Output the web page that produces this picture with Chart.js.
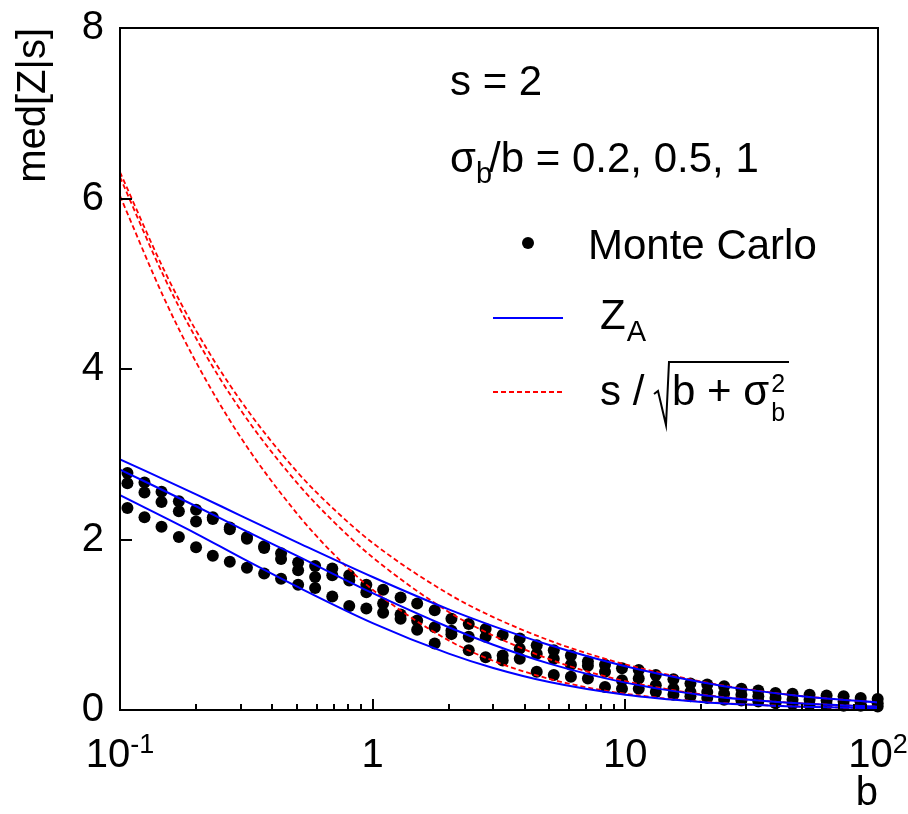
<!DOCTYPE html>
<html>
<head>
<meta charset="utf-8">
<script src="https://cdn.jsdelivr.net/npm/chart.js@4/dist/chart.umd.min.js"></script>
<style>
  html, body { margin: 0; padding: 0; background: #fff; }
  canvas { display: block; }
</style>
</head>
<body>
<canvas id="chart" width="908" height="814"></canvas>
<script>
// Expected background b for each Monte Carlo point
const mcB = [0.107, 0.125, 0.146, 0.171, 0.200, 0.233, 0.272, 0.318, 0.372, 0.434,
             0.507, 0.592, 0.692, 0.808, 0.944, 1.10, 1.29, 1.50, 1.76, 2.05,
             2.40, 2.80, 3.27, 3.82, 4.46, 5.21, 6.09, 7.11, 8.31, 9.70,
             11.3, 13.2, 15.5, 18.1, 21.1, 24.6, 28.8, 33.6, 39.3, 45.9,
             53.6, 62.6, 73.1, 85.4, 99.7];
// Monte Carlo median significance, one list per sigma_b/b
const mcSigma02 = [2.78, 2.67, 2.56, 2.45, 2.35, 2.26, 2.14, 2.03, 1.92, 1.84,
                   1.73, 1.69, 1.66, 1.58, 1.47, 1.41, 1.32, 1.25, 1.17, 1.07,
                   1.01, 0.95, 0.88, 0.84, 0.76, 0.70, 0.64, 0.57, 0.53, 0.49,
                   0.47, 0.41, 0.36, 0.31, 0.30, 0.28, 0.25, 0.23, 0.20, 0.19,
                   0.18, 0.17, 0.16, 0.14, 0.13];
const mcSigma05 = [2.66, 2.55, 2.44, 2.33, 2.21, 2.24, 2.12, 2.01, 1.90, 1.77,
                   1.64, 1.56, 1.58, 1.52, 1.38, 1.25, 1.12, 1.05, 0.97, 0.93,
                   0.86, 0.86, 0.64, 0.72, 0.66, 0.60, 0.53, 0.52, 0.45, 0.35,
                   0.37, 0.29, 0.25, 0.21, 0.21, 0.19, 0.18, 0.16, 0.14, 0.12,
                   0.12, 0.11, 0.10, 0.09, 0.08];
const mcSigma1  = [2.37, 2.26, 2.15, 2.03, 1.91, 1.81, 1.74, 1.67, 1.60, 1.54,
                   1.47, 1.43, 1.33, 1.22, 1.19, 1.14, 1.07, 0.94, 0.78, 0.89,
                   0.70, 0.62, 0.58, 0.60, 0.45, 0.41, 0.39, 0.37, 0.27, 0.25,
                   0.25, 0.21, 0.18, 0.16, 0.14, 0.12, 0.11, 0.10, 0.08, 0.07,
                   0.06, 0.06, 0.05, 0.05, 0.04];

// Asimov significance Z_A curves
const zaB      = [0.1, 0.2, 0.3, 0.5, 1, 2, 3, 5, 10, 20, 30, 50, 100];
const zaSigma02 = [2.94, 2.53, 2.28, 1.97, 1.56, 1.18, 0.984, 0.762, 0.513, 0.326, 0.242, 0.162, 0.089];
const zaSigma05 = [2.82, 2.39, 2.13, 1.81, 1.37, 0.971, 0.765, 0.544, 0.321, 0.177, 0.123, 0.076, 0.039];
const zaSigma1  = [2.52, 2.07, 1.79, 1.45, 1.02, 0.661, 0.493, 0.328, 0.180, 0.095, 0.064, 0.039, 0.020];

// Simple approximation s / sqrt(b + sigma_b^2)
const simpleB       = [0.1, 0.15, 0.2, 0.3, 0.5, 0.7, 1, 2, 3, 5, 7, 10, 20, 30, 50, 100];
const simpleSigma02 = [6.31, 5.15, 4.45, 3.63, 2.80, 2.36, 1.96, 1.36, 1.09, 0.816, 0.668, 0.535, 0.333, 0.246, 0.163, 0.089];
const simpleSigma05 = [6.25, 5.07, 4.36, 3.52, 2.67, 2.21, 1.79, 1.15, 0.873, 0.596, 0.456, 0.338, 0.183, 0.125, 0.077, 0.039];
const simpleSigma1  = [6.03, 4.82, 4.08, 3.20, 2.31, 1.83, 1.41, 0.816, 0.577, 0.365, 0.267, 0.191, 0.098, 0.066, 0.040, 0.020];

// Axis ticks and their labels (mantissa + exponent)
const xTickValues = [0.1, 1, 10, 100];
const xTickBase   = ['10', '1', '10', '10'];
const xTickExp    = ['-1', '', '', '2'];
const yTickStep = 2;

const FAMILY = '"Liberation Sans", Arial, Helvetica, sans-serif';
const font = px => px + 'px ' + FAMILY;

const pts = (xs, ys) => xs.map((x, i) => ({ x: x, y: ys[i] }));

function curve(xs, ys, color, dash) {
  return {
    data: pts(xs, ys),
    showLine: true,
    pointRadius: 0,
    borderColor: color,
    borderWidth: dash ? 1.8 : 2,
    borderDash: dash || [],
    cubicInterpolationMode: 'monotone',
    fill: false
  };
}
function mc(ys) {
  return {
    data: pts(mcB, ys),
    showLine: false,
    pointRadius: 6,
    pointBackgroundColor: '#000',
    pointBorderWidth: 0,
    clip: false
  };
}

// Frame, inside ticks, power-of-ten labels, text block and legend
const decor = {
  id: 'decor',
  afterDraw(chart) {
    const { ctx, chartArea: a, scales: { x, y } } = chart;
    ctx.save();
    ctx.strokeStyle = '#000';
    ctx.fillStyle = '#000';

    // frame
    ctx.lineWidth = 2;
    ctx.strokeRect(a.left, a.top, a.right - a.left, a.bottom - a.top);

    // x ticks (major + minor, pointing inwards)
    ctx.lineWidth = 2;
    ctx.beginPath();
    for (let e = -1; e <= 2; e++) {
      for (let m = 1; m <= 9; m++) {
        const v = m * Math.pow(10, e);
        if (v > 100.0001) break;
        const px = Math.round(x.getPixelForValue(v));
        const len = m === 1 ? 11 : 6;
        ctx.moveTo(px, a.bottom);
        ctx.lineTo(px, a.bottom - len);
      }
    }
    // y ticks
    for (let v = 0; v <= 8; v += yTickStep) {
      const py = Math.round(y.getPixelForValue(v));
      ctx.moveTo(a.left, py);
      ctx.lineTo(a.left + 12, py);
    }
    ctx.stroke();

    // x tick labels with exponents
    ctx.textBaseline = 'alphabetic';
    ctx.textAlign = 'left';
    xTickValues.forEach((v, i) => {
      const px = x.getPixelForValue(v);
      ctx.font = font(40);
      const wb = ctx.measureText(xTickBase[i]).width;
      ctx.font = font(27);
      const we = xTickExp[i] ? ctx.measureText(xTickExp[i]).width : 0;
      const x0 = px - (wb + we) / 2;
      ctx.font = font(40);
      ctx.fillText(xTickBase[i], x0, 767);
      if (xTickExp[i]) {
        ctx.font = font(27);
        ctx.fillText(xTickExp[i], x0 + wb, 753);
      }
    });

    // parameter text
    ctx.font = font(42);
    ctx.fillText('s = 2', 450, 95);
    ctx.fillText('\u03c3', 450, 172);
    let cx = 450 + ctx.measureText('\u03c3').width;
    ctx.font = font(29);
    ctx.fillText('b', cx, 183);
    cx += ctx.measureText('b').width - 3;
    ctx.font = font(42);
    ctx.fillText('/b = 0.2, 0.5, 1', cx, 172);

    // legend: Monte Carlo
    ctx.beginPath();
    ctx.arc(528, 243, 6, 0, Math.PI * 2);
    ctx.fill();
    ctx.fillText('Monte Carlo', 588, 259);

    // legend: Z_A
    ctx.strokeStyle = '#0000ff';
    ctx.lineWidth = 2;
    ctx.beginPath();
    ctx.moveTo(493, 318);
    ctx.lineTo(563, 318);
    ctx.stroke();
    ctx.fillText('Z', 600, 329);
    const wz = ctx.measureText('Z').width;
    ctx.font = font(29);
    ctx.fillText('A', 600 + wz + 1, 341);

    // legend: s / sqrt(b + sigma_b^2)
    ctx.strokeStyle = '#ff0000';
    ctx.lineWidth = 1.8;
    ctx.setLineDash([5, 3]);
    ctx.beginPath();
    ctx.moveTo(493, 392);
    ctx.lineTo(563, 392);
    ctx.stroke();
    ctx.setLineDash([]);
    ctx.font = font(42);
    ctx.fillText('s /', 600, 405);
    ctx.strokeStyle = '#000';
    ctx.lineWidth = 2;
    ctx.beginPath();
    ctx.moveTo(654, 394);
    ctx.lineTo(658, 391);
    ctx.lineTo(666, 425);
    ctx.lineTo(669, 362);
    ctx.lineTo(789, 362);
    ctx.stroke();
    ctx.fillText('b + \u03c3', 672, 405);
    const wr = ctx.measureText('b + \u03c3').width;
    ctx.font = font(25);
    ctx.fillText('2', 672 + wr + 2, 392);
    ctx.fillText('b', 672 + wr + 2, 421);

    ctx.restore();
  }
};

new Chart(document.getElementById('chart'), {
  type: 'scatter',
  data: {
    datasets: [
      curve(zaB, zaSigma02, '#0000ff'),
      curve(zaB, zaSigma05, '#0000ff'),
      curve(zaB, zaSigma1, '#0000ff'),
      curve(simpleB, simpleSigma02, '#ff0000', [5, 3]),
      curve(simpleB, simpleSigma05, '#ff0000', [5, 3]),
      curve(simpleB, simpleSigma1, '#ff0000', [5, 3]),
      mc(mcSigma02),
      mc(mcSigma05),
      mc(mcSigma1)
    ]
  },
  options: {
    responsive: false,
    animation: false,
    devicePixelRatio: 1,
    layout: { padding: { left: 0, right: 30, top: 25, bottom: 0 } },
    plugins: { legend: { display: false }, tooltip: { enabled: false } },
    scales: {
      x: {
        type: 'logarithmic',
        min: 0.1,
        max: 100,
        grid: { display: false },
        border: { display: false },
        ticks: { display: false },
        title: {
          display: true, text: 'b', align: 'end', color: '#000',
          font: { family: FAMILY, size: 40, lineHeight: 1 }, padding: 0
        },
        afterFit(scale) { scale.height = 104; }
      },
      y: {
        min: 0,
        max: 8,
        grid: { display: false },
        border: { display: false },
        ticks: {
          stepSize: yTickStep, color: '#000', padding: 8,
          font: { family: FAMILY, size: 40, lineHeight: 1 }
        },
        title: {
          display: true, text: 'med[Z|s]', align: 'end', color: '#000',
          font: { family: FAMILY, size: 40, lineHeight: 1 }, padding: { top: 14, bottom: 0 }
        },
        afterFit(scale) { scale.width = 120; }
      }
    }
  },
  plugins: [decor]
});
</script>
</body>
</html>
